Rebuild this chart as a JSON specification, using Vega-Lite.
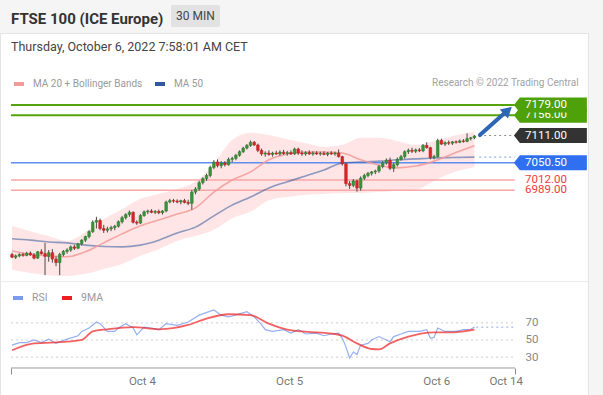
{
  "$schema": "https://vega.github.io/schema/vega-lite/v6.json",
  "width": 588,
  "height": 362,
  "autosize": "none",
  "padding": {"left": 0, "top": 33, "right": 15, "bottom": 0},
  "background": "#f5f5f5",
  "view": {"fill": "white", "stroke": "#e4e4e4"},
  "config": {"font": "Roboto"},
  "title": {
    "text": "FTSE 100 (ICE Europe)",
    "subtitle": "Thursday, October 6, 2022 7:58:01 AM CET",
    "anchor": "start", "frame": "group", "orient": "top",
    "offset": -48.5, "dx": 11,
    "font": "Roboto", "fontSize": 15, "fontWeight": "bold", "color": "#333333",
    "subtitleFont": "Roboto", "subtitleFontSize": 12.5, "subtitleColor": "#444444", "subtitlePadding": 14.5
  },
  "datasets": {
    "candles": [
      {"i":0,"o":6846,"h":6850,"l":6838,"c":6840},
      {"i":1,"o":6840,"h":6846,"l":6836,"c":6843},
      {"i":2,"o":6843,"h":6849,"l":6840,"c":6846},
      {"i":3,"o":6846,"h":6850,"l":6841,"c":6844},
      {"i":4,"o":6844,"h":6852,"l":6842,"c":6849},
      {"i":5,"o":6849,"h":6853,"l":6843,"c":6845},
      {"i":6,"o":6845,"h":6849,"l":6835,"c":6838},
      {"i":7,"o":6838,"h":6854,"l":6836,"c":6852},
      {"i":8,"o":6852,"h":6858,"l":6846,"c":6848},
      {"i":9,"o":6848,"h":6872,"l":6800,"c":6842},
      {"i":10,"o":6842,"h":6856,"l":6830,"c":6850},
      {"i":11,"o":6850,"h":6858,"l":6828,"c":6836},
      {"i":12,"o":6836,"h":6842,"l":6820,"c":6828},
      {"i":13,"o":6828,"h":6850,"l":6800,"c":6846},
      {"i":14,"o":6846,"h":6856,"l":6842,"c":6853},
      {"i":15,"o":6853,"h":6860,"l":6848,"c":6856},
      {"i":16,"o":6856,"h":6866,"l":6852,"c":6863},
      {"i":17,"o":6863,"h":6868,"l":6856,"c":6860},
      {"i":18,"o":6860,"h":6872,"l":6858,"c":6870},
      {"i":19,"o":6870,"h":6880,"l":6866,"c":6878},
      {"i":20,"o":6878,"h":6888,"l":6874,"c":6886},
      {"i":21,"o":6886,"h":6900,"l":6882,"c":6897},
      {"i":22,"o":6897,"h":6922,"l":6894,"c":6918},
      {"i":23,"o":6918,"h":6930,"l":6904,"c":6922},
      {"i":24,"o":6922,"h":6926,"l":6900,"c":6904},
      {"i":25,"o":6904,"h":6912,"l":6894,"c":6900},
      {"i":26,"o":6900,"h":6908,"l":6895,"c":6903},
      {"i":27,"o":6903,"h":6910,"l":6898,"c":6906},
      {"i":28,"o":6906,"h":6912,"l":6900,"c":6909},
      {"i":29,"o":6909,"h":6922,"l":6906,"c":6919},
      {"i":30,"o":6919,"h":6932,"l":6915,"c":6928},
      {"i":31,"o":6928,"h":6938,"l":6924,"c":6935},
      {"i":32,"o":6935,"h":6944,"l":6930,"c":6940},
      {"i":33,"o":6940,"h":6942,"l":6915,"c":6918},
      {"i":34,"o":6918,"h":6922,"l":6912,"c":6916},
      {"i":35,"o":6916,"h":6936,"l":6914,"c":6933},
      {"i":36,"o":6933,"h":6944,"l":6930,"c":6941},
      {"i":37,"o":6941,"h":6946,"l":6936,"c":6943},
      {"i":38,"o":6943,"h":6947,"l":6938,"c":6940},
      {"i":39,"o":6940,"h":6945,"l":6936,"c":6942},
      {"i":40,"o":6942,"h":6946,"l":6936,"c":6939},
      {"i":41,"o":6939,"h":6945,"l":6935,"c":6943},
      {"i":42,"o":6943,"h":6966,"l":6940,"c":6963},
      {"i":43,"o":6963,"h":6970,"l":6960,"c":6966},
      {"i":44,"o":6966,"h":6970,"l":6961,"c":6965},
      {"i":45,"o":6965,"h":6969,"l":6960,"c":6963},
      {"i":46,"o":6963,"h":6968,"l":6958,"c":6966},
      {"i":47,"o":6966,"h":6970,"l":6960,"c":6962},
      {"i":48,"o":6962,"h":6968,"l":6956,"c":6960},
      {"i":49,"o":6960,"h":6990,"l":6946,"c":6985},
      {"i":50,"o":6985,"h":6996,"l":6980,"c":6992},
      {"i":51,"o":6992,"h":7010,"l":6988,"c":7006},
      {"i":52,"o":7006,"h":7018,"l":7002,"c":7015},
      {"i":53,"o":7015,"h":7026,"l":7010,"c":7022},
      {"i":54,"o":7022,"h":7044,"l":7018,"c":7040},
      {"i":55,"o":7040,"h":7056,"l":7036,"c":7052},
      {"i":56,"o":7052,"h":7058,"l":7040,"c":7044},
      {"i":57,"o":7044,"h":7054,"l":7038,"c":7050},
      {"i":58,"o":7050,"h":7054,"l":7042,"c":7046},
      {"i":59,"o":7046,"h":7062,"l":7044,"c":7058},
      {"i":60,"o":7058,"h":7064,"l":7052,"c":7060},
      {"i":61,"o":7060,"h":7070,"l":7056,"c":7067},
      {"i":62,"o":7067,"h":7078,"l":7064,"c":7075},
      {"i":63,"o":7075,"h":7086,"l":7072,"c":7083},
      {"i":64,"o":7083,"h":7092,"l":7080,"c":7089},
      {"i":65,"o":7089,"h":7100,"l":7086,"c":7096},
      {"i":66,"o":7096,"h":7099,"l":7088,"c":7090},
      {"i":67,"o":7090,"h":7093,"l":7074,"c":7078},
      {"i":68,"o":7078,"h":7082,"l":7066,"c":7070},
      {"i":69,"o":7070,"h":7076,"l":7064,"c":7072},
      {"i":70,"o":7072,"h":7078,"l":7066,"c":7069},
      {"i":71,"o":7069,"h":7075,"l":7064,"c":7072},
      {"i":72,"o":7072,"h":7077,"l":7068,"c":7070},
      {"i":73,"o":7070,"h":7078,"l":7066,"c":7074},
      {"i":74,"o":7074,"h":7079,"l":7068,"c":7071},
      {"i":75,"o":7071,"h":7077,"l":7066,"c":7073},
      {"i":76,"o":7073,"h":7078,"l":7068,"c":7070},
      {"i":77,"o":7070,"h":7084,"l":7068,"c":7081},
      {"i":78,"o":7081,"h":7084,"l":7068,"c":7072},
      {"i":79,"o":7072,"h":7078,"l":7066,"c":7070},
      {"i":80,"o":7070,"h":7076,"l":7066,"c":7073},
      {"i":81,"o":7073,"h":7078,"l":7068,"c":7070},
      {"i":82,"o":7070,"h":7076,"l":7066,"c":7072},
      {"i":83,"o":7072,"h":7076,"l":7068,"c":7070},
      {"i":84,"o":7070,"h":7075,"l":7066,"c":7071},
      {"i":85,"o":7071,"h":7076,"l":7067,"c":7069},
      {"i":86,"o":7069,"h":7074,"l":7065,"c":7072},
      {"i":87,"o":7072,"h":7076,"l":7068,"c":7070},
      {"i":88,"o":7070,"h":7075,"l":7066,"c":7072},
      {"i":89,"o":7072,"h":7080,"l":7062,"c":7064},
      {"i":90,"o":7064,"h":7066,"l":7044,"c":7048},
      {"i":91,"o":7048,"h":7050,"l":6998,"c":7004},
      {"i":92,"o":7004,"h":7010,"l":6992,"c":7000},
      {"i":93,"o":7000,"h":7014,"l":6996,"c":7010},
      {"i":94,"o":7010,"h":7013,"l":6986,"c":6994},
      {"i":95,"o":6994,"h":7020,"l":6988,"c":7016},
      {"i":96,"o":7016,"h":7026,"l":7012,"c":7022},
      {"i":97,"o":7022,"h":7030,"l":7018,"c":7027},
      {"i":98,"o":7027,"h":7032,"l":7022,"c":7030},
      {"i":99,"o":7030,"h":7035,"l":7025,"c":7032},
      {"i":100,"o":7032,"h":7046,"l":7028,"c":7042},
      {"i":101,"o":7042,"h":7054,"l":7038,"c":7050},
      {"i":102,"o":7050,"h":7060,"l":7046,"c":7056},
      {"i":103,"o":7056,"h":7062,"l":7034,"c":7038},
      {"i":104,"o":7038,"h":7050,"l":7030,"c":7046},
      {"i":105,"o":7046,"h":7062,"l":7042,"c":7058},
      {"i":106,"o":7058,"h":7068,"l":7055,"c":7064},
      {"i":107,"o":7064,"h":7078,"l":7060,"c":7075},
      {"i":108,"o":7075,"h":7082,"l":7070,"c":7078},
      {"i":109,"o":7078,"h":7084,"l":7072,"c":7076},
      {"i":110,"o":7076,"h":7082,"l":7072,"c":7079},
      {"i":111,"o":7079,"h":7083,"l":7074,"c":7077},
      {"i":112,"o":7077,"h":7092,"l":7074,"c":7089},
      {"i":113,"o":7089,"h":7096,"l":7082,"c":7084},
      {"i":114,"o":7084,"h":7086,"l":7058,"c":7062},
      {"i":115,"o":7062,"h":7068,"l":7058,"c":7064},
      {"i":116,"o":7064,"h":7104,"l":7062,"c":7100},
      {"i":117,"o":7100,"h":7104,"l":7090,"c":7092},
      {"i":118,"o":7092,"h":7098,"l":7088,"c":7095},
      {"i":119,"o":7095,"h":7100,"l":7090,"c":7094},
      {"i":120,"o":7094,"h":7099,"l":7090,"c":7097},
      {"i":121,"o":7097,"h":7100,"l":7093,"c":7096},
      {"i":122,"o":7096,"h":7102,"l":7094,"c":7099},
      {"i":123,"o":7099,"h":7103,"l":7095,"c":7098},
      {"i":124,"o":7098,"h":7116,"l":7096,"c":7104},
      {"i":125,"o":7104,"h":7108,"l":7100,"c":7106},
      {"i":126,"o":7106,"h":7112,"l":7103,"c":7110}
    ],
    "ind": [
      {"i":0,"up":6910,"lo":6812,"ma20":6854,"ma50":6881},
      {"i":5,"up":6898,"lo":6805,"ma20":6847,"ma50":6878},
      {"i":10,"up":6887,"lo":6800,"ma20":6843,"ma50":6874},
      {"i":15,"up":6876,"lo":6798,"ma20":6841,"ma50":6872},
      {"i":20,"up":6896,"lo":6803,"ma20":6852,"ma50":6867},
      {"i":25,"up":6925,"lo":6814,"ma20":6872,"ma50":6864},
      {"i":30,"up":6947,"lo":6825,"ma20":6892,"ma50":6863},
      {"i":35,"up":6970,"lo":6843,"ma20":6910,"ma50":6867},
      {"i":40,"up":6981,"lo":6858,"ma20":6923,"ma50":6878},
      {"i":45,"up":6992,"lo":6876,"ma20":6936,"ma50":6894},
      {"i":50,"up":7008,"lo":6887,"ma20":6950,"ma50":6907},
      {"i":55,"up":7048,"lo":6901,"ma20":6985,"ma50":6932},
      {"i":60,"up":7101,"lo":6927,"ma20":7012,"ma50":6956},
      {"i":65,"up":7117,"lo":6941,"ma20":7030,"ma50":6974},
      {"i":70,"up":7112,"lo":6967,"ma20":7057,"ma50":6994},
      {"i":75,"up":7103,"lo":6974,"ma20":7070,"ma50":7008},
      {"i":80,"up":7094,"lo":6979,"ma20":7074,"ma50":7021},
      {"i":85,"up":7086,"lo":6981,"ma20":7074,"ma50":7034},
      {"i":90,"up":7090,"lo":6983,"ma20":7072,"ma50":7050},
      {"i":95,"up":7106,"lo":6983,"ma20":7057,"ma50":7052},
      {"i":100,"up":7106,"lo":6985,"ma20":7045,"ma50":7054},
      {"i":105,"up":7099,"lo":6988,"ma20":7039,"ma50":7057},
      {"i":110,"up":7090,"lo":6990,"ma20":7043,"ma50":7059},
      {"i":115,"up":7099,"lo":7010,"ma20":7054,"ma50":7061},
      {"i":120,"up":7110,"lo":7028,"ma20":7070,"ma50":7062},
      {"i":126,"up":7119,"lo":7041,"ma20":7088,"ma50":7063}
    ],
    "levels": [
      {"p":7156,"kind":"res"},
      {"p":7179,"kind":"res"},
      {"p":7111,"kind":"last"},
      {"p":7050.5,"kind":"pivot"},
      {"p":7012,"kind":"sup"},
      {"p":6989,"kind":"sup"}
    ],
    "arrow": [
      {"i":127.5,"p":7112,"part":"shaft"},
      {"i":134.3,"p":7162,"part":"shaft"},
      {"i":135.1,"p":7167,"part":"head"}
    ],
    "rsi": [
      {"i":0,"r":44},{"i":2,"r":47},{"i":4,"r":47},{"i":6,"r":50},{"i":8,"r":47},
      {"i":10,"r":51},{"i":12,"r":46},{"i":13,"r":48},{"i":15,"r":51},{"i":18,"r":55},
      {"i":19,"r":60},{"i":21,"r":64},{"i":23,"r":71},{"i":24,"r":69},{"i":26,"r":60},
      {"i":28,"r":60},{"i":29,"r":64},{"i":31,"r":69},{"i":33,"r":64},{"i":34,"r":56},
      {"i":36,"r":65},{"i":38,"r":64},{"i":40,"r":62},{"i":42,"r":69},{"i":45,"r":67},
      {"i":48,"r":71},{"i":51,"r":79},{"i":55,"r":85},{"i":57,"r":79},{"i":59,"r":77},
      {"i":60,"r":78},{"i":64,"r":83},{"i":66,"r":77},{"i":68,"r":68},{"i":69,"r":62},
      {"i":71,"r":60},{"i":74,"r":62},{"i":76,"r":58},{"i":78,"r":62},{"i":79,"r":60},
      {"i":80,"r":57},{"i":83,"r":58},{"i":85,"r":55},{"i":87,"r":57},{"i":89,"r":58},
      {"i":90,"r":52},{"i":91,"r":42},{"i":92,"r":29},{"i":93,"r":36},{"i":94,"r":33},
      {"i":95,"r":44},{"i":97,"r":46},{"i":98,"r":50},{"i":100,"r":54},{"i":102,"r":50},
      {"i":103,"r":48},{"i":104,"r":54},{"i":106,"r":57},{"i":108,"r":60},{"i":111,"r":60},
      {"i":113,"r":62},{"i":114,"r":52},{"i":115,"r":53},{"i":116,"r":64},{"i":118,"r":60},
      {"i":121,"r":60},{"i":123,"r":62},{"i":125,"r":62.5},{"i":126,"r":65}
    ],
    "rsima": [
      {"i":0,"r":38},{"i":6,"r":46},{"i":15,"r":48},{"i":19,"r":50},{"i":22,"r":60},
      {"i":26,"r":62.5},{"i":33,"r":65},{"i":40,"r":62.5},{"i":48,"r":67.5},{"i":53,"r":75},
      {"i":59,"r":80},{"i":65,"r":79},{"i":70,"r":69},{"i":75,"r":62},{"i":79,"r":60},
      {"i":88,"r":57},{"i":90,"r":55},{"i":94,"r":46},{"i":98,"r":39.5},{"i":100,"r":39},
      {"i":103,"r":46},{"i":108,"r":54},{"i":115,"r":59},{"i":120,"r":59},{"i":126,"r":62}
    ],
    "rsilevels": [{"r":30},{"r":50},{"r":70}]
  },
  "layer": [
    {
      "layer": [
        {
          "data": {"name": "levels"},
          "transform": [{"filter": "datum.kind === 'last'"}],
          "mark": {"type": "rule", "stroke": "#ececec", "strokeWidth": 1},
          "encoding": {
            "y": {"datum": 6786, "scale": {"domain": [6533.1, 7339.4], "nice": false, "zero": false}, "axis": null}
          }
        },
        {
          "data": {"name": "ind"},
          "mark": {"type": "area", "interpolate": "monotone", "fill": "#ffdcdc", "opacity": 0.75},
          "encoding": {
            "x": {"field": "i", "type": "quantitative", "scale": {"domain": [-3.27, 156.95], "nice": false, "zero": false, "padding": 0},
              "axis": {"values": [-0.27, 35.4, 75.5, 115.6, 134.5, 137.06],
                "labelExpr": "datum.value < 0 || datum.value > 136 ? '' : datum.value < 50 ? 'Oct 4' : datum.value < 100 ? 'Oct 5' : datum.value < 130 ? 'Oct 6' : 'Oct 14'",
                "domain": false, "grid": false, "offset": -27, "tickSize": 6, "tickColor": "#8a8a8a",
                "tickOpacity": {"condition": {"test": "datum.value < 0 || datum.value > 136", "value": 1}, "value": 0},
                "labelFontSize": 11.5, "labelColor": "#777777", "labelPadding": 1, "title": null,
                "labelFlush": false, "labelOverlap": false, "labelBound": false}},
            "y": {"field": "up", "type": "quantitative", "scale": {"domain": [6533.1, 7339.4], "nice": false, "zero": false}, "axis": null},
            "y2": {"field": "lo"}
          }
        },
        {
          "data": {"name": "levels"},
          "transform": [{"filter": "datum.kind !== 'last'"}],
          "mark": {"type": "rule"},
          "encoding": {
            "x": {"datum": -0.27, "type": "quantitative", "scale": {"domain": [-3.27, 156.95], "nice": false, "zero": false, "padding": 0}},
            "x2": {"datum": 137},
            "y": {"field": "p", "type": "quantitative", "scale": {"domain": [6533.1, 7339.4], "nice": false, "zero": false}, "axis": null},
            "stroke": {"condition": [{"test": "datum.kind === 'res'", "value": "#55a40e"}, {"test": "datum.kind === 'pivot'", "value": "#5d8ef0"}], "value": "#f8a6a6"},
            "strokeWidth": {"condition": {"test": "datum.kind === 'res'", "value": 2}, "value": 1.5}
          }
        },
        {
          "data": {"name": "ind"},
          "mark": {"type": "line", "interpolate": "monotone", "strokeWidth": 1.6, "opacity": 0.55},
          "encoding": {
            "x": {"field": "i", "type": "quantitative", "scale": {"domain": [-3.27, 156.95], "nice": false, "zero": false, "padding": 0}},
            "y": {"field": "ma50", "type": "quantitative", "scale": {"domain": [6533.1, 7339.4], "nice": false, "zero": false}, "axis": null},
            "color": {"datum": "MA 50", "type": "nominal",
              "scale": {"domain": ["MA 20 + Bollinger Bands", "MA 50"], "range": ["#f59a9a", "#30599f"]},
              "legend": {"orient": "none", "legendX": 12, "legendY": 44, "direction": "horizontal", "title": null,
                "symbolType": "stroke", "symbolSize": 100, "symbolStrokeWidth": 4, "symbolOpacity": 1,
                "labelFontSize": 10, "labelColor": "#9a9a9a", "labelOffset": 7, "columnPadding": 4}}
          }
        },
        {
          "data": {"name": "ind"},
          "mark": {"type": "line", "interpolate": "monotone", "strokeWidth": 1.6, "opacity": 0.85},
          "encoding": {
            "x": {"field": "i", "type": "quantitative", "scale": {"domain": [-3.27, 156.95], "nice": false, "zero": false, "padding": 0}},
            "y": {"field": "ma20", "type": "quantitative", "scale": {"domain": [6533.1, 7339.4], "nice": false, "zero": false}, "axis": null},
            "color": {"datum": "MA 20 + Bollinger Bands", "type": "nominal",
              "scale": {"domain": ["MA 20 + Bollinger Bands", "MA 50"], "range": ["#f59a9a", "#30599f"]},
              "legend": {"orient": "none", "legendX": 12, "legendY": 44, "direction": "horizontal", "title": null,
                "symbolType": "stroke", "symbolSize": 100, "symbolStrokeWidth": 4, "symbolOpacity": 1,
                "labelFontSize": 10, "labelColor": "#9a9a9a", "labelOffset": 7, "columnPadding": 4}}
          }
        },
        {
          "data": {"name": "candles"},
          "mark": {"type": "rule", "stroke": "#4a4a4a", "strokeWidth": 1},
          "encoding": {
            "x": {"field": "i", "type": "quantitative", "scale": {"domain": [-3.27, 156.95], "nice": false, "zero": false, "padding": 0}},
            "y": {"field": "l", "type": "quantitative", "scale": {"domain": [6533.1, 7339.4], "nice": false, "zero": false}, "axis": null},
            "y2": {"field": "h"}
          }
        },
        {
          "data": {"name": "candles"},
          "mark": {"type": "bar", "width": 2.6, "strokeWidth": 0.6},
          "encoding": {
            "x": {"field": "i", "type": "quantitative", "scale": {"domain": [-3.27, 156.95], "nice": false, "zero": false, "padding": 0}},
            "y": {"field": "o", "type": "quantitative", "scale": {"domain": [6533.1, 7339.4], "nice": false, "zero": false}, "axis": null},
            "y2": {"field": "c"},
            "fill": {"condition": {"test": "datum.c >= datum.o", "value": "#36953a"}, "value": "#d8262b"},
            "stroke": {"condition": {"test": "datum.c >= datum.o", "value": "#2f7f33"}, "value": "#c21f24"}
          }
        },
        {
          "data": {"name": "levels"},
          "transform": [{"filter": "datum.kind === 'last'"}],
          "mark": {"type": "rule", "stroke": "#8a8a8a", "strokeWidth": 1},
          "encoding": {
            "x": {"datum": 127.3, "type": "quantitative", "scale": {"domain": [-3.27, 156.95], "nice": false, "zero": false, "padding": 0}},
            "x2": {"datum": 137},
            "y": {"field": "p", "type": "quantitative", "scale": {"domain": [6533.1, 7339.4], "nice": false, "zero": false}, "axis": null},
            "strokeDash": {"datum": "Research © 2022 Trading Central", "type": "nominal", "scale": {"range": [[2, 3]]},
              "legend": {"orient": "none", "legendX": 432, "legendY": 45, "title": null, "symbolOpacity": 0, "symbolSize": 0,
                "symbolStrokeWidth": 0, "labelOffset": -10, "labelFontSize": 10, "labelColor": "#a3a3a3", "labelLimit": 400,
                "encode": {"symbols": {"update": {"size": {"value": 0}, "opacity": {"value": 0}}}}}}
          }
        },
        {
          "data": {"name": "ind"},
          "transform": [{"filter": "datum.i === 126"}],
          "mark": {"type": "rule", "stroke": "#7d9fe2", "strokeWidth": 1, "strokeDash": [2, 3]},
          "encoding": {
            "x": {"datum": 127.3, "type": "quantitative", "scale": {"domain": [-3.27, 156.95], "nice": false, "zero": false, "padding": 0}},
            "x2": {"datum": 137},
            "y": {"field": "ma50", "type": "quantitative", "scale": {"domain": [6533.1, 7339.4], "nice": false, "zero": false}, "axis": null}
          }
        },
        {
          "data": {"name": "arrow"},
          "transform": [{"filter": "datum.part === 'shaft'"}],
          "mark": {"type": "line", "stroke": "#2d66b4", "strokeWidth": 4, "strokeCap": "round"},
          "encoding": {
            "x": {"field": "i", "type": "quantitative", "scale": {"domain": [-3.27, 156.95], "nice": false, "zero": false, "padding": 0}},
            "y": {"field": "p", "type": "quantitative", "scale": {"domain": [6533.1, 7339.4], "nice": false, "zero": false}, "axis": null}
          }
        },
        {
          "data": {"name": "arrow"},
          "transform": [{"filter": "datum.part === 'head'"}],
          "mark": {"type": "point", "filled": true, "fill": "#2d66b4", "opacity": 1, "size": 150, "angle": 48},
          "encoding": {
            "x": {"field": "i", "type": "quantitative", "scale": {"domain": [-3.27, 156.95], "nice": false, "zero": false, "padding": 0}},
            "y": {"field": "p", "type": "quantitative", "scale": {"domain": [6533.1, 7339.4], "nice": false, "zero": false}, "axis": null},
            "shape": {"datum": "30 MIN", "type": "nominal", "scale": {"range": ["triangle-up"]},
              "legend": {"orient": "none", "legendX": 171, "legendY": -28, "title": null, "fillColor": "#e2e2e2", "padding": 5,
                "cornerRadius": 2, "symbolOpacity": 0, "symbolSize": 0, "symbolStrokeWidth": 0, "labelOffset": -12,
                "labelFontSize": 12, "labelColor": "#444444",
                "encode": {"symbols": {"update": {"size": {"value": 0}, "opacity": {"value": 0}}}}}}
          }
        },
        {
          "data": {"name": "levels"},
          "transform": [{"filter": "datum.kind !== 'sup' && datum.p !== 7179"}],
          "mark": {"type": "point", "filled": true, "opacity": 1, "size": 5329,
            "shape": "M-1,0L-0.836,-0.205L1,-0.205L1,0.205L-0.836,0.205Z"},
          "encoding": {
            "x": {"datum": 146.7, "type": "quantitative", "scale": {"domain": [-3.27, 156.95], "nice": false, "zero": false, "padding": 0}},
            "y": {"field": "p", "type": "quantitative", "scale": {"domain": [6533.1, 7339.4], "nice": false, "zero": false}, "axis": null},
            "fill": {"condition": [{"test": "datum.kind === 'res'", "value": "#4fa10a"}, {"test": "datum.kind === 'pivot'", "value": "#2f6ff0"}], "value": "#333333"}
          }
        },
        {
          "data": {"name": "levels"},
          "transform": [{"filter": "datum.p !== 7179"}],
          "mark": {"type": "text", "align": "left", "baseline": "middle", "fontSize": 11.5},
          "encoding": {
            "x": {"datum": 139.8, "type": "quantitative", "scale": {"domain": [-3.27, 156.95], "nice": false, "zero": false, "padding": 0}},
            "y": {"field": "p", "type": "quantitative", "scale": {"domain": [6533.1, 7339.4], "nice": false, "zero": false}, "axis": null},
            "text": {"field": "p", "type": "quantitative", "format": ".2f"},
            "fill": {"condition": {"test": "datum.kind === 'sup'", "value": "#f03c3c"}, "value": "#ffffff"}
          }
        },
        {
          "data": {"name": "levels"},
          "transform": [{"filter": "datum.p === 7179"}],
          "mark": {"type": "point", "filled": true, "opacity": 1, "size": 5329, "fill": "#4fa10a",
            "shape": "M-1,0L-0.836,-0.205L1,-0.205L1,0.205L-0.836,0.205Z"},
          "encoding": {
            "x": {"datum": 146.7, "type": "quantitative", "scale": {"domain": [-3.27, 156.95], "nice": false, "zero": false, "padding": 0}},
            "y": {"field": "p", "type": "quantitative", "scale": {"domain": [6533.1, 7339.4], "nice": false, "zero": false}, "axis": null}
          }
        },
        {
          "data": {"name": "levels"},
          "transform": [{"filter": "datum.p === 7179"}],
          "mark": {"type": "text", "align": "left", "baseline": "middle", "fontSize": 11.5, "fill": "#ffffff"},
          "encoding": {
            "x": {"datum": 139.8, "type": "quantitative", "scale": {"domain": [-3.27, 156.95], "nice": false, "zero": false, "padding": 0}},
            "y": {"field": "p", "type": "quantitative", "scale": {"domain": [6533.1, 7339.4], "nice": false, "zero": false}, "axis": null},
            "text": {"field": "p", "type": "quantitative", "format": ".2f"}
          }
        }
      ]
    },
    {
      "layer": [
        {
          "data": {"name": "rsilevels"},
          "mark": {"type": "rule", "stroke": "#cfcfcf", "strokeWidth": 1, "strokeDash": [2, 3]},
          "encoding": {
            "x": {"datum": -0.27, "type": "quantitative", "scale": {"domain": [-3.27, 156.95], "nice": false, "zero": false, "padding": 0}},
            "x2": {"datum": 137},
            "y": {"field": "r", "type": "quantitative", "scale": {"domain": [-14.14, 408], "nice": false, "zero": false},
              "axis": {"orient": "right", "values": [30, 50, 70], "domain": false, "ticks": false, "tickSize": 0, "grid": false,
                "offset": -67, "labelPadding": 4, "labelFontSize": 11.5, "labelColor": "#888888", "title": null}}
          }
        },
        {
          "data": {"name": "levels"},
          "transform": [{"filter": "datum.kind === 'last'"}],
          "mark": {"type": "rule", "stroke": "#9a9a9a", "strokeWidth": 1},
          "encoding": {
            "x": {"datum": -0.27, "type": "quantitative", "scale": {"domain": [-3.27, 156.95], "nice": false, "zero": false, "padding": 0}},
            "x2": {"datum": 137.06},
            "y": {"datum": 17.35, "type": "quantitative", "scale": {"domain": [-14.14, 408], "nice": false, "zero": false}}
          }
        },
        {
          "data": {"name": "rsi"},
          "mark": {"type": "line", "strokeWidth": 1.2, "opacity": 0.8},
          "encoding": {
            "x": {"field": "i", "type": "quantitative", "scale": {"domain": [-3.27, 156.95], "nice": false, "zero": false, "padding": 0}},
            "y": {"field": "r", "type": "quantitative", "scale": {"domain": [-14.14, 408], "nice": false, "zero": false}},
            "color": {"datum": "RSI", "type": "nominal", "scale": {"domain": ["RSI", "9MA"], "range": ["#7b9bef", "#ee1f1f"]},
              "legend": {"orient": "none", "legendX": 11, "legendY": 258, "direction": "horizontal", "title": null,
                "symbolType": "stroke", "symbolSize": 100, "symbolStrokeWidth": 4, "symbolOpacity": 1,
                "labelFontSize": 10.5, "labelColor": "#9a9a9a", "labelOffset": 7, "columnPadding": 6}}
          }
        },
        {
          "data": {"name": "rsima"},
          "mark": {"type": "line", "strokeWidth": 1.8, "opacity": 0.7, "interpolate": "monotone"},
          "encoding": {
            "x": {"field": "i", "type": "quantitative", "scale": {"domain": [-3.27, 156.95], "nice": false, "zero": false, "padding": 0}},
            "y": {"field": "r", "type": "quantitative", "scale": {"domain": [-14.14, 408], "nice": false, "zero": false}},
            "color": {"datum": "9MA", "type": "nominal", "scale": {"domain": ["RSI", "9MA"], "range": ["#7b9bef", "#ee1f1f"]},
              "legend": {"orient": "none", "legendX": 11, "legendY": 258, "direction": "horizontal", "title": null,
                "symbolType": "stroke", "symbolSize": 100, "symbolStrokeWidth": 4, "symbolOpacity": 1,
                "labelFontSize": 10.5, "labelColor": "#9a9a9a", "labelOffset": 7, "columnPadding": 6}}
          }
        },
        {
          "data": {"name": "rsi"},
          "transform": [{"filter": "datum.i === 126"}],
          "mark": {"type": "rule", "stroke": "#8fa8f0", "strokeWidth": 1, "strokeDash": [2, 3]},
          "encoding": {
            "x": {"datum": 126.5, "type": "quantitative", "scale": {"domain": [-3.27, 156.95], "nice": false, "zero": false, "padding": 0}},
            "x2": {"datum": 137},
            "y": {"field": "r", "type": "quantitative", "scale": {"domain": [-14.14, 408], "nice": false, "zero": false}}
          }
        }
      ]
    }
  ],
  "resolve": {"scale": {"y": "independent", "color": "independent"}}
}
